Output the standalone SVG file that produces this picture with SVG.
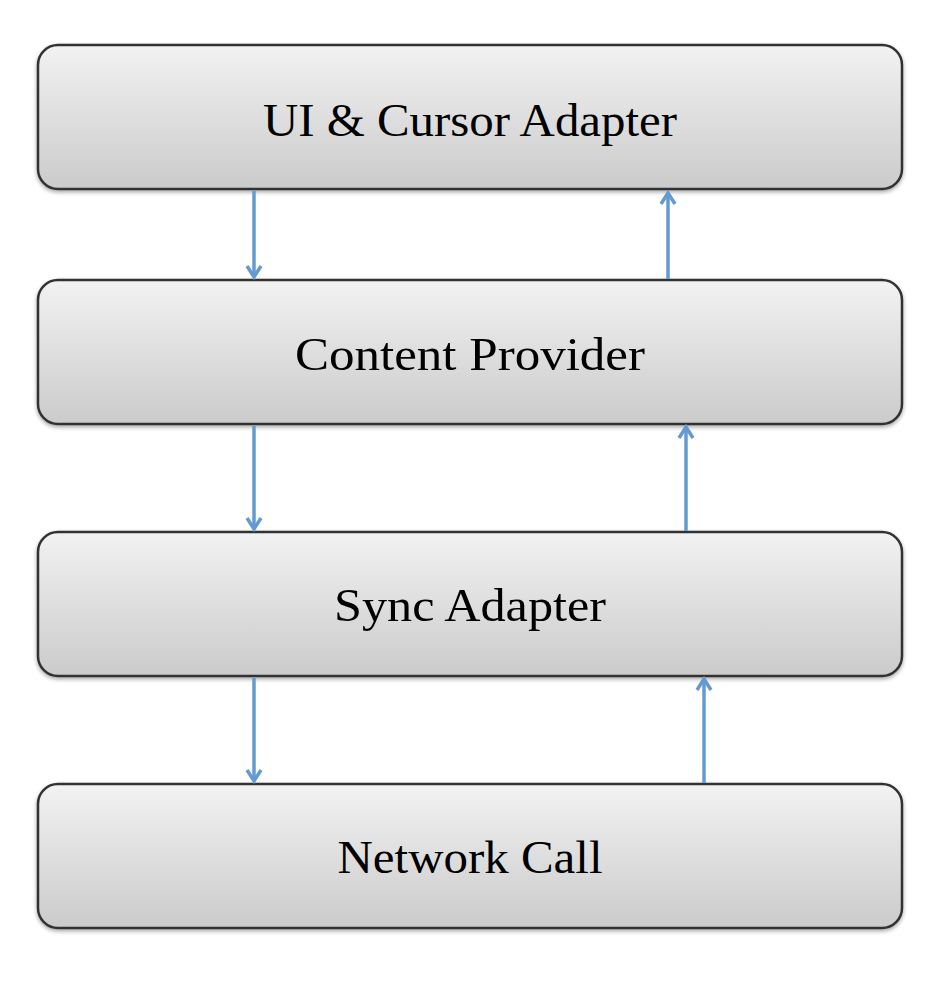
<svg xmlns="http://www.w3.org/2000/svg" width="948" height="988" viewBox="0 0 948 988">
<defs>
<linearGradient id="g" x1="0" y1="0" x2="0" y2="1">
<stop offset="0" stop-color="#f2f2f2"/>
<stop offset="1" stop-color="#cbcbcb"/>
</linearGradient>
<filter id="sh" x="-5%" y="-10%" width="110%" height="130%">
<feGaussianBlur in="SourceAlpha" stdDeviation="2"/>
<feOffset dx="0" dy="2"/>
<feComponentTransfer><feFuncA type="linear" slope="0.35"/></feComponentTransfer>
<feMerge><feMergeNode/><feMergeNode in="SourceGraphic"/></feMerge>
</filter>
<marker id="ah" viewBox="0 0 20 20" refX="16" refY="10" markerWidth="20" markerHeight="20" markerUnits="userSpaceOnUse" orient="auto">
<path d="M5,3 L16,10 L5,17" fill="none" stroke="#649ad2" stroke-width="3.5"/>
</marker>
</defs>
<style>
.box{fill:url(#g);stroke:#333;stroke-width:2.5;filter:url(#sh)}
.lbl{font-family:"Liberation Serif","DejaVu Serif",serif;font-size:47px;fill:#000;text-anchor:middle}
.arr{stroke:#649ad2;stroke-width:3.5;fill:none;marker-end:url(#ah)}
</style>
<rect width="948" height="988" fill="#fff"/>
<g id="ui">
<rect class="box" x="38" y="45" width="864" height="144" rx="20"/>
<text class="lbl" x="470" y="136" textLength="414" lengthAdjust="spacingAndGlyphs">UI &amp; Cursor Adapter</text>
</g>
<g id="cp">
<rect class="box" x="38" y="280" width="864" height="144" rx="20"/>
<text class="lbl" x="470" y="370" textLength="350" lengthAdjust="spacingAndGlyphs">Content Provider</text>
</g>
<g id="sa">
<rect class="box" x="38" y="532" width="864" height="144" rx="20"/>
<text class="lbl" x="470" y="621" textLength="272" lengthAdjust="spacingAndGlyphs">Sync Adapter</text>
</g>
<g id="nc">
<rect class="box" x="38" y="784" width="864" height="144" rx="20"/>
<text class="lbl" x="470" y="873" textLength="265" lengthAdjust="spacingAndGlyphs">Network Call</text>
</g>
<g id="connectors">
<line class="arr" x1="254" y1="191" x2="254" y2="277"/>
<line class="arr" x1="668" y1="279" x2="668" y2="193"/>
<line class="arr" x1="254" y1="426" x2="254" y2="529"/>
<line class="arr" x1="686" y1="531" x2="686" y2="427"/>
<line class="arr" x1="254" y1="678" x2="254" y2="781"/>
<line class="arr" x1="704" y1="783" x2="704" y2="679"/>
</g>
</svg>
